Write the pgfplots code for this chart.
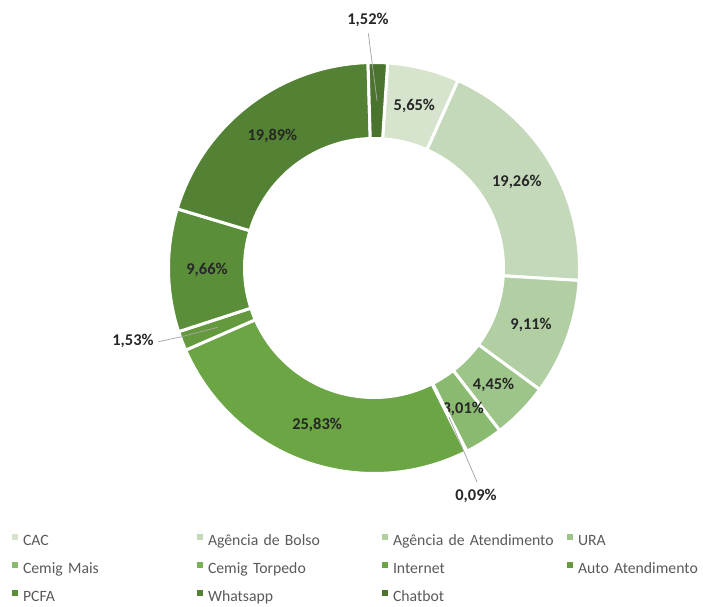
\documentclass[border=0pt]{standalone}
\usepackage{fontspec}
\setmainfont{Carlito}
\usepackage{pgfplots}
\usepackage{pgfplotstable}
\pgfplotsset{compat=1.18}

\definecolor{c0}{HTML}{D6E4CD}
\definecolor{c1}{HTML}{C4D9B9}
\definecolor{c2}{HTML}{B2CFA3}
\definecolor{c3}{HTML}{9EC589}
\definecolor{c4}{HTML}{8ABA70}
\definecolor{c5}{HTML}{77B054}
\definecolor{c6}{HTML}{6BA544}
\definecolor{c7}{HTML}{64993E}
\definecolor{c8}{HTML}{5B8E38}
\definecolor{c9}{HTML}{548235}
\definecolor{c10}{HTML}{4A742E}
\definecolor{rotulo}{HTML}{262626}
\definecolor{legenda}{HTML}{595959}
\definecolor{guia}{HTML}{A6A6A6}

\pgfplotstableread[col sep=comma]{
canal,valor
CAC,5.65
Agência de Bolso,19.26
Agência de Atendimento,9.11
URA,4.45
Cemig Mais,3.01
Cemig Torpedo,0.09
Internet,25.83
Auto Atendimento,1.53
PCFA,9.66
Whatsapp,19.89
Chatbot,1.52
}\dados

\pgfkeys{/pgf/number format/.cd, fixed, fixed zerofill, precision=2,
  use comma, assume math mode=true}

\newcommand\rotfont{\bfseries\fontsize{16.5}{19}\selectfont}
\def\inicio{3.8}   % angulo da primeira fatia (graus, sentido horario)
\def\rext{205.5}
\def\rint{129.5}
\def\rmed{167}

\begin{document}
\begin{tikzpicture}
\begin{axis}[
  hide axis, x=1bp, y=1bp,
  xmin=-374, xmax=329, ymin=-339, ymax=268,
  clip=false,
  legend columns=4,
  legend image code/.code={\fill[#1] (0bp,2bp) rectangle (6bp,8bp);},
  legend style={at={(axis cs:-362,-266)}, anchor=north west,
    draw=none, fill=none, inner sep=0pt, outer sep=0pt,
    font=\fontsize{15.8}{19}\selectfont, text=legenda,
    nodes={inner sep=0pt, text width=174bp, text height=12bp,
      text depth=4bp, anchor=west},
    /tikz/every odd column/.append style={column sep=5bp},
    row sep=12bp},
]
\pgfmathsetmacro{\acum}{0}
\pgfplotsforeachungrouped \i in {0,...,10}{%
  \pgfplotstablegetelem{\i}{valor}\of\dados
  \let\valor\pgfplotsretval
  \pgfplotstablegetelem{\i}{canal}\of\dados
  \let\canal\pgfplotsretval
  \expandafter\xdef\csname valor\i\endcsname{\valor}%
  \pgfmathsetmacro{\as}{90-\inicio-3.6*\acum}%
  \pgfmathsetmacro{\ae}{\as-3.6*\valor}%
  \pgfmathsetmacro{\am}{(\as+\ae)/2}%
  \pgfmathsetmacro{\xo}{\rext*cos(\as)}%
  \pgfmathsetmacro{\yo}{\rext*sin(\as)}%
  \pgfmathsetmacro{\xi}{\rint*cos(\ae)}%
  \pgfmathsetmacro{\yi}{\rint*sin(\ae)}%
  \pgfmathsetmacro{\xm}{\rmed*cos(\am)}%
  \pgfmathsetmacro{\ym}{\rmed*sin(\am)}%
  \edef\fatia{%
    \noexpand\filldraw[fill=c\i, draw=white, line width=3bp]
      (axis cs:\xo,\yo) arc[start angle=\as, end angle=\ae, radius=\rext bp]
      -- (axis cs:\xi,\yi) arc[start angle=\ae, end angle=\as, radius=\rint bp]
      -- cycle;
    \noexpand\coordinate (m\i) at (axis cs:\xm,\ym);
    \noexpand\addlegendimage{fill=c\i, draw=none}
    \noexpand\addlegendentry{\canal}}%
  \fatia
  \ifdim\valor pt>2.5pt
    \edef\rot{\noexpand\node[font=\noexpand\rotfont, text=rotulo]
      at (axis cs:\xm,\ym) {\noexpand\pgfmathprintnumber{\valor}\noexpand\%};}%
    \rot
  \fi
  \pgfmathsetmacro{\acum}{\acum+\valor}%
}
% rotulos com linha de chamada
\draw[guia, line width=0.75bp] (axis cs:-5.7,234.7) -- (m10);
\node[font=\rotfont, text=rotulo] at (axis cs:-6,248)
  {\pgfmathprintnumber{\csname valor10\endcsname}\%};
\draw[guia, line width=0.75bp] (axis cs:103,-214) -- (m5);
\node[font=\rotfont, text=rotulo] at (axis cs:102,-228)
  {\pgfmathprintnumber{\csname valor5\endcsname}\%};
\draw[guia, line width=0.75bp] (axis cs:-215.7,-73.7) -- (axis cs:-192.3,-68.7) -- (m7);
\node[font=\rotfont, text=rotulo] at (axis cs:-241,-73)
  {\pgfmathprintnumber{\csname valor7\endcsname}\%};
\coordinate (cantoA) at (axis cs:-374,-339);
\coordinate (cantoB) at (axis cs:329,268);
\end{axis}
\pgfresetboundingbox
\path[use as bounding box] (cantoA) rectangle (cantoB);
\end{tikzpicture}
\end{document}
